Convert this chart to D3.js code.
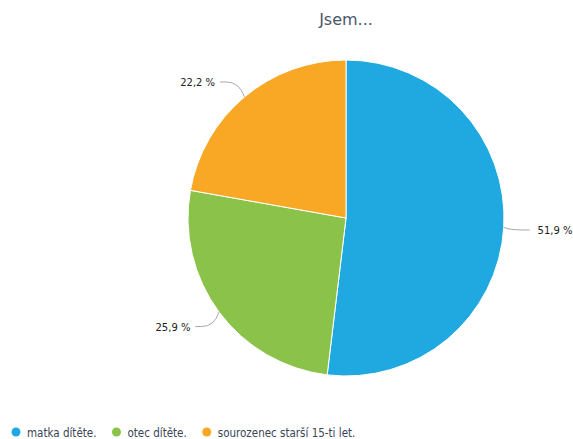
<!DOCTYPE html>
<html><head><meta charset="utf-8">
<script src="https://cdn.jsdelivr.net/npm/d3@7"></script>
<style>body{margin:0;background:#fff}</style>
</head><body>
<svg id="c" width="573" height="439"></svg>
<script>
const categories = ["matka dítěte.", "otec dítěte.", "sourozenec starší 15-ti let."];
const values = [51.9, 25.9, 22.2];
const labels = ["51,9 %", "25,9 %", "22,2 %"];
const colors = ["#20a9e1", "#8bc34a", "#f9a825"];
const title = "Jsem...";

const svg = d3.select("#c");
const cx = 346, cy = 218, r = 158, labR = 184;
const font = "DejaVu Sans, sans-serif";

svg.append("text").attr("x", 346).attr("y", 25).attr("text-anchor", "middle")
  .attr("font-family", font).attr("font-size", 16).attr("fill", "#4a5568").text(title);

const pie = d3.pie().sort(null).value(d => d)(values);
const arc = d3.arc().innerRadius(0).outerRadius(r);
const g = svg.append("g").attr("transform", `translate(${cx},${cy})`);
g.selectAll("path.s").data(pie).join("path").attr("class", "s")
  .attr("d", arc).attr("fill", (d, i) => colors[i]).attr("stroke", "#fff").attr("stroke-width", 1);

pie.forEach((d, i) => {
  const a = (d.startAngle + d.endAngle) / 2;
  const sx = Math.sin(a), sy = -Math.cos(a);
  const ex = sx * r, ey = sy * r;
  const ly = sy * labR + (sy > 0.3 ? -1 : (sy < 0 ? 5 : 1));
  const right = sx >= 0;
  const lx = (right ? 1 : -1) * Math.sqrt(labR * labR - ly * ly) + (right ? 0 : -2);
  const bx = lx + (right ? -6 : 6);
  g.append("path")
    .attr("d", `M${lx},${ly} L${bx},${ly} Q${(bx + ex) / 2 + (right ? -4 : 4)},${ly} ${ex},${ey}`)
    .attr("fill", "none").attr("stroke", "#a8a8a8").attr("stroke-width", 1);
  g.append("text").attr("x", lx + (right ? 8 : -5)).attr("y", ly + 4)
    .attr("text-anchor", right ? "start" : "end")
    .attr("font-family", font).attr("font-size", 10).attr("fill", "#222").text(labels[i]);
});

const lg = svg.append("g");
let x = 16;
categories.forEach((c, i) => {
  lg.append("circle").attr("cx", x).attr("cy", 432).attr("r", 4.5).attr("fill", colors[i]);
  const t = lg.append("text").attr("x", x + 11).attr("y", 436.5)
    .attr("font-family", "DejaVu Sans Condensed, DejaVu Sans, sans-serif").attr("font-size", 11.5).attr("fill", "#3a4556")
    .text(c);
  const w = t.node().getComputedTextLength();
  x = x + 11 + w + 20;
});
</script>
</body></html>
